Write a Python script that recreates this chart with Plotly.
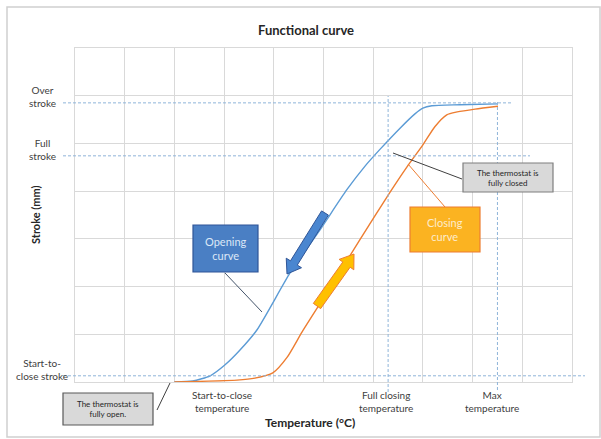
import math
import plotly.graph_objects as go

# ---------------- data ----------------
opening_temp = [2.0, 2.37, 2.72, 3.02, 3.32, 3.66, 4.33, 4.93, 5.47, 5.84, 6.14, 6.54, 6.84, 7.00, 7.18, 7.75, 8.51]
opening_stroke = [0.0, 0.02, 0.13, 0.36, 0.67, 1.09, 2.29, 3.19, 4.03, 4.53, 4.88, 5.32, 5.62, 5.74, 5.79, 5.81, 5.83]
closing_temp = [2.0, 3.26, 3.62, 3.98, 4.27, 4.57, 5.13, 5.73, 6.34, 6.68, 7.00, 7.24, 7.48, 7.69, 8.05, 8.51]
closing_stroke = [0.0, 0.04, 0.08, 0.19, 0.52, 1.05, 1.97, 2.98, 3.98, 4.51, 4.97, 5.35, 5.60, 5.66, 5.72, 5.78]

stroke_levels = [5.85, 4.74, 0.13]
stroke_labels = ["Over<br>stroke", "Full<br>stroke", "Start-to-<br>close stroke"]
temp_levels = [2.0, 6.3, 8.5]
temp_label_pos = [2.95, 6.25, 8.4]
temp_labels = ["Start-to-close<br>temperature", "Full closing<br>temperature", "Max<br>temperature"]

X_RANGE = [0, 10]
Y_RANGE = [0, 7]

# ---------------- layout geometry ----------------
W, H = 601, 439
L, R, T, B = 75, 29, 48, 57
PW, PH = W - L - R, H - T - B


def px(xp):
    return (xp - L) / PW


def py(yp):
    return (H - B - yp) / PH


def dy(v):
    return (v - Y_RANGE[0]) / (Y_RANGE[1] - Y_RANGE[0])


def dx(v):
    return (v - X_RANGE[0]) / (X_RANGE[1] - X_RANGE[0])


FONT = "Lato, 'Liberation Sans', sans-serif"
DASH = "#8fb4d9"

fig = go.Figure()
fig.add_trace(go.Scatter(x=opening_temp, y=opening_stroke, mode="lines",
                         line=dict(color="#5b9bd5", width=1.4, shape="spline", smoothing=0.6),
                         hoverinfo="skip", showlegend=False))
fig.add_trace(go.Scatter(x=closing_temp, y=closing_stroke, mode="lines",
                         line=dict(color="#ed7d31", width=1.4, shape="spline", smoothing=0.6),
                         hoverinfo="skip", showlegend=False))

shapes = []
# outer frame
shapes.append(dict(type="rect", xref="paper", yref="paper", x0=px(7), x1=px(600), y0=py(437), y1=py(7),
                   line=dict(color="#d0d0d0", width=1.5), layer="below"))

# dashed reference lines
h_ext = [513, 530, 585]
for lev, xe in zip(stroke_levels, h_ext):
    shapes.append(dict(type="line", xref="paper", yref="paper", x0=px(63), x1=px(xe),
                       y0=dy(lev), y1=dy(lev), line=dict(color=DASH, width=1, dash="3px,2px")))
v_ext = [(96, 392), (102, 390)]
for lev, (ya, yb) in zip(temp_levels[1:], v_ext):
    shapes.append(dict(type="line", xref="paper", yref="paper", x0=dx(lev), x1=dx(lev),
                       y0=py(yb), y1=py(ya), line=dict(color=DASH, width=1, dash="3px,2px")))


def block_arrow(x0, y0, x1, y1, shaft=8, head_w=18, head_l=13):
    ddx, ddy = x1 - x0, y1 - y0
    ln = math.hypot(ddx, ddy)
    ux, uy = ddx / ln, ddy / ln
    nx, ny = -uy, ux
    nkx, nky = x1 - ux * head_l, y1 - uy * head_l
    pts = [
        (x0 + nx * shaft / 2, y0 + ny * shaft / 2),
        (nkx + nx * shaft / 2, nky + ny * shaft / 2),
        (nkx + nx * head_w / 2, nky + ny * head_w / 2),
        (x1, y1),
        (nkx - nx * head_w / 2, nky - ny * head_w / 2),
        (nkx - nx * shaft / 2, nky - ny * shaft / 2),
        (x0 - nx * shaft / 2, y0 - ny * shaft / 2),
    ]
    return "M " + " L ".join(f"{px(a):.5f},{py(b):.5f}" for a, b in pts) + " Z"


shapes.append(dict(type="path", xref="paper", yref="paper", path=block_arrow(325, 213, 287, 274),
                   fillcolor="#4a86d0", line=dict(color="#2f5597", width=1)))
shapes.append(dict(type="path", xref="paper", yref="paper", path=block_arrow(317, 306, 354, 254, shaft=9, head_w=18),
                   fillcolor="#ffc000", line=dict(color="#ed7d31", width=1)))

# leader lines
leaders = [((225, 273), (262, 312), "#44546a"),
           ((408, 164), (445, 207), "#ed7d31"),
           ((393, 153), (462, 179), "#404040"),
           ((157, 410), (170, 383), "#404040")]
for (a, b), (c, d), col in leaders:
    shapes.append(dict(type="line", xref="paper", yref="paper", x0=px(a), y0=py(b), x1=px(c), y1=py(d),
                       line=dict(color=col, width=1)))

annotations = []
# left stroke labels
for lev, txt in zip(stroke_levels, stroke_labels):
    annotations.append(dict(xref="paper", yref="paper", x=px(42), y=dy(lev) + 6 / PH, text=txt,
                            showarrow=False, xanchor="center", yanchor="middle", align="center",
                            font=dict(family=FONT, size=10, color="#404040")))
# bottom temperature labels
for pos, txt in zip(temp_label_pos, temp_labels):
    annotations.append(dict(xref="paper", yref="paper", x=dx(pos), y=py(401), text=txt, showarrow=False,
                            xanchor="center", yanchor="middle", align="center",
                            font=dict(family=FONT, size=10, color="#404040")))

# axis titles
annotations.append(dict(xref="paper", yref="paper", x=px(310), y=py(422), text="<b>Temperature (°C)</b>",
                        showarrow=False, xanchor="center", yanchor="middle",
                        font=dict(family=FONT, size=12, color="#262626")))
annotations.append(dict(xref="paper", yref="paper", x=px(35), y=py(215), text="<b>Stroke (mm)</b>",
                        textangle=-90, showarrow=False, xanchor="center", yanchor="middle",
                        font=dict(family=FONT, size=11, color="#262626")))

# callout boxes
boxes = [
    ("Opening<br>curve", 225.5, 248.5, 65, 47, "#4a7fc4", "#2f5597", "#dce8f7", 11),
    ("Closing<br>curve", 445, 229.5, 70, 45, "#fbb321", "#ed7d31", "#fdeccc", 11),
    ("The thermostat is<br>fully closed", 508, 177.5, 90, 29, "#d9d9d9", "#7f7f7f", "#262626", 8),
    ("The thermostat is<br>fully open.", 108, 409, 90, 32, "#d9d9d9", "#595959", "#262626", 8),
]
for txt, cx, cy, w, h, fill, border, tc, fs in boxes:
    shapes.append(dict(type="rect", xref="paper", yref="paper", x0=px(cx - w / 2), x1=px(cx + w / 2),
                       y0=py(cy + h / 2), y1=py(cy - h / 2), fillcolor=fill, line=dict(color=border, width=1.2)))
    annotations.append(dict(xref="paper", yref="paper", x=px(cx), y=py(cy), text=txt, showarrow=False,
                            xanchor="center", yanchor="middle", align="center",
                            font=dict(family=FONT, size=fs, color=tc)))

fig.update_layout(
    width=W, height=H,
    margin=dict(l=L, r=R, t=T, b=B),
    paper_bgcolor="white", plot_bgcolor="white",
    title=dict(text="<b>Functional curve</b>", x=px(306), y=1 - 30 / H, xref="paper", yref="container",
               xanchor="center", yanchor="middle", font=dict(family=FONT, size=13, color="#262626")),
    xaxis=dict(range=X_RANGE, dtick=1, tick0=0, showticklabels=False, ticks="", showgrid=True,
               gridcolor="#d9d9d9", gridwidth=1, zeroline=False, showline=True, linecolor="#d9d9d9",
               mirror=True, fixedrange=True),
    yaxis=dict(range=Y_RANGE, dtick=1, tick0=0, showticklabels=False, ticks="", showgrid=True,
               gridcolor="#d9d9d9", gridwidth=1, zeroline=False, showline=True, linecolor="#d9d9d9",
               mirror=True, fixedrange=True),
    shapes=shapes,
    annotations=annotations,
)

fig.write_html("out.html", config={"displayModeBar": False},
               post_script="document.body.style.margin='0';document.body.style.overflow='hidden';")
